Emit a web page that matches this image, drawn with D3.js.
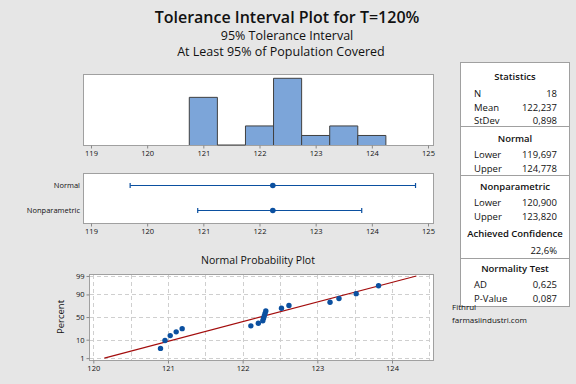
<!DOCTYPE html>
<html>
<head>
<meta charset="utf-8">
<title>Tolerance Interval Plot</title>
<style>
 body{margin:0;background:#e6e6e6;}
 text{font-family:'Open Sans',sans-serif;fill:#111;}
</style>
<script src="https://cdnjs.cloudflare.com/ajax/libs/d3/7.8.5/d3.min.js"></script>
</head>
<body>
<div id="plot"></div>
<script>
// data
var values = [120.90, 120.96, 121.03, 121.11, 121.19, 122.11, 122.21, 122.27, 122.28,
              122.29, 122.30, 122.31, 122.52, 122.62, 123.17, 123.29, 123.52, 123.82];
var binEdges = [120.75, 121.25, 121.75, 122.25, 122.75, 123.25, 123.75, 124.25];
var intervalNames = ["Normal", "Nonparametric"];
var intervalLower = [119.697, 120.900];
var intervalUpper = [124.778, 123.820];
var mean = 122.237, stdev = 0.898;
var axisTicks = [119, 120, 121, 122, 123, 124, 125];
var probXTicks = [120, 121, 122, 123, 124];
var probXGrid = [120, 120.5, 121, 121.5, 122, 122.5, 123, 123.5, 124, 124.5];
var probYTicks = [1, 10, 50, 90, 99];

var statHeaders = ["Statistics", "Normal", "Nonparametric", "Normality Test"];
var statLabels = [["N", "Mean", "StDev"], ["Lower", "Upper"], ["Lower", "Upper"], ["AD", "P-Value"]];
var statValues = [["18", "122,237", "0,898"], ["119,697", "124,778"], ["120,900", "123,820"], ["0,625", "0,087"]];
var achievedLabel = "Achieved Confidence", achievedValue = "22,6%";

var w = 576, h = 384;
var blue = "#0b50a0";

var svg = d3.select("#plot").append("svg").attr("width", w).attr("height", h);
svg.append("rect").attr("width", w).attr("height", h).attr("fill", "#e6e6e6");

// titles
svg.append("text").attr("x", 287).attr("y", 23).attr("text-anchor", "middle")
   .style("font-size", "16px").style("font-weight", 600).text("Tolerance Interval Plot for T=120%");
svg.append("text").attr("x", 287).attr("y", 40).attr("text-anchor", "middle")
   .style("font-size", "12.5px").text("95% Tolerance Interval");
svg.append("text").attr("x", 281).attr("y", 56).attr("text-anchor", "middle")
   .style("font-size", "12.5px").text("At Least 95% of Population Covered");

function frame(x0, y0, x1, y1) {
  svg.append("rect").attr("x", x0).attr("y", y0).attr("width", x1 - x0).attr("height", y1 - y0)
     .attr("fill", "#fff").attr("stroke", "#a0a0a0").attr("stroke-width", 1);
}
function styleAxis(g) {
  g.select(".domain").remove();
  g.selectAll(".tick line").attr("stroke", "#888");
  g.selectAll(".tick text").style("font-size", "7.5px").attr("fill", "#222");
}

// histogram
var x = d3.scaleLinear().domain([119, 125]).range([91, 428]);
frame(83.5, 74.5, 433.5, 145.5);
var bins = d3.bin().domain([binEdges[0], binEdges[binEdges.length - 1]]).thresholds(binEdges)(values);
var yh = d3.scaleLinear().domain([0, 7.45]).range([145, 74]);
svg.append("g").selectAll("path").data(bins).enter().append("path")
   .attr("d", function(d) {
     return "M" + x(d.x0) + "," + yh(0) + "V" + yh(d.length) + "H" + x(d.x1) + "V" + yh(0);
   })
   .attr("fill", "#7ca5d9").attr("stroke", "#404040").attr("stroke-width", 1);
svg.append("g").attr("transform", "translate(0,145.5)")
   .call(d3.axisBottom(x).tickValues(axisTicks).tickFormat(d3.format("d")).tickSize(3).tickPadding(2))
   .call(styleAxis);

// intervals
frame(83.5, 173.5, 433.5, 223.5);
var yi = d3.scalePoint().domain(intervalNames).range([185.5, 210.5]);
var iv = svg.append("g").selectAll("g").data(intervalNames).enter().append("g");
iv.append("line").attr("x1", function(d, i) { return x(intervalLower[i]); })
  .attr("x2", function(d, i) { return x(intervalUpper[i]); })
  .attr("y1", function(d) { return yi(d); }).attr("y2", function(d) { return yi(d); })
  .attr("stroke", blue).attr("stroke-width", 1.2);
[intervalLower, intervalUpper].forEach(function(arr) {
  iv.append("line").attr("x1", function(d, i) { return x(arr[i]); })
    .attr("x2", function(d, i) { return x(arr[i]); })
    .attr("y1", function(d) { return yi(d) - 2.5; }).attr("y2", function(d) { return yi(d) + 2.5; })
    .attr("stroke", blue).attr("stroke-width", 1.2);
});
iv.append("circle").attr("cx", x(mean)).attr("cy", function(d) { return yi(d); }).attr("r", 2.8).attr("fill", blue);
iv.append("text").attr("x", 80).attr("y", function(d) { return yi(d) + 2.5; })
  .attr("text-anchor", "end").style("font-size", "7.5px").text(function(d) { return d; });
svg.append("g").attr("transform", "translate(0,223.5)")
   .call(d3.axisBottom(x).tickValues(axisTicks).tickFormat(d3.format("d")).tickSize(3).tickPadding(2))
   .call(styleAxis);

// normal probability plot
function qnorm(p) {
  var a = [-39.69683028665376, 220.9460984245205, -275.9285104469687, 138.3577518672690, -30.66479806614716, 2.506628277459239];
  var b = [-54.47609879822406, 161.5858368580409, -155.6989798598866, 66.80131188771972, -13.28068155288572];
  var c = [-0.007784894002430293, -0.3223964580411365, -2.400758277161838, -2.549732539343734, 4.374664141464968, 2.938163982698783];
  var dd = [0.007784695709041462, 0.3224671290700398, 2.445134137142996, 3.754408661907416];
  var q, r;
  if (p < 0.02425) {
    q = Math.sqrt(-2 * Math.log(p));
    return (((((c[0]*q+c[1])*q+c[2])*q+c[3])*q+c[4])*q+c[5]) / ((((dd[0]*q+dd[1])*q+dd[2])*q+dd[3])*q+1);
  }
  if (p > 1 - 0.02425) return -qnorm(1 - p);
  q = p - 0.5; r = q * q;
  return (((((a[0]*r+a[1])*r+a[2])*r+a[3])*r+a[4])*r+a[5])*q / (((((b[0]*r+b[1])*r+b[2])*r+b[3])*r+b[4])*r+1);
}
svg.append("text").attr("x", 258).attr("y", 264).attr("text-anchor", "middle")
   .style("font-size", "10.5px").text("Normal Probability Plot");
frame(89.5, 274.5, 433.5, 360.5);
var xp = d3.scaleLinear().domain([120, 124]).range([93.3, 392]);
var yz = d3.scaleLinear().domain([-2.46, 2.41]).range([360.5, 274.5]);
var grid = svg.append("g").attr("stroke", "#cfcfcf").attr("stroke-dasharray", "4,3").attr("stroke-width", 1);
grid.selectAll(".v").data(probXGrid).enter().append("line")
    .attr("x1", function(d) { return Math.round(xp(d)) + 0.5; }).attr("x2", function(d) { return Math.round(xp(d)) + 0.5; })
    .attr("y1", 275).attr("y2", 360);
grid.selectAll(".h").data(probYTicks).enter().append("line")
    .attr("y1", function(d) { return Math.round(yz(qnorm(d / 100))) + 0.5; })
    .attr("y2", function(d) { return Math.round(yz(qnorm(d / 100))) + 0.5; })
    .attr("x1", 90).attr("x2", 433);
svg.append("line").attr("x1", xp(mean + qnorm(0.01) * stdev)).attr("y1", yz(qnorm(0.01)))
   .attr("x2", xp(mean + qnorm(0.99) * stdev)).attr("y2", yz(qnorm(0.99)))
   .attr("stroke", "#a30d0d").attr("stroke-width", 1.2);
var sorted = values.slice().sort(d3.ascending), n = sorted.length;
svg.append("g").selectAll("circle").data(sorted).enter().append("circle")
   .attr("cx", function(d) { return xp(d); })
   .attr("cy", function(d, i) { return yz(qnorm((i + 1 - 0.3) / (n + 0.4))); })
   .attr("r", 2.7).attr("fill", blue);
svg.append("g").attr("transform", "translate(0,360.5)")
   .call(d3.axisBottom(xp).tickValues(probXTicks).tickFormat(d3.format("d")).tickSize(3).tickPadding(2))
   .call(styleAxis);
var yAxisG = svg.append("g").attr("transform", "translate(89.5,0)")
   .call(d3.axisLeft(yz)
     .tickValues(probYTicks.map(function(d) { return qnorm(d / 100); }))
     .tickFormat(function(d, i) { return probYTicks[i]; }).tickSize(3).tickPadding(2));
styleAxis(yAxisG);
svg.append("text").attr("transform", "translate(64,317) rotate(-90)").attr("text-anchor", "middle")
   .style("font-size", "9.5px").text("Percent");

// statistics box
var bx0 = 460.5, bx1 = 569.5;
svg.append("rect").attr("x", bx0).attr("y", 62.5).attr("width", bx1 - bx0).attr("height", 244)
   .attr("fill", "#fff").attr("stroke", "#a0a0a0");
[126.5, 175.5, 258.5].forEach(function(y) {
  svg.append("line").attr("x1", bx0).attr("x2", bx1).attr("y1", y).attr("y2", y).attr("stroke", "#a0a0a0");
});
var headerY = [80, 142, 190, 272];
var rowY = [[97, 110.5, 123.5], [158, 172], [206, 220], [288, 302]];
var cx = (bx0 + bx1) / 2;
statHeaders.forEach(function(hd, s) {
  svg.append("text").attr("x", cx).attr("y", headerY[s]).attr("text-anchor", "middle")
     .style("font-size", "9.5px").style("font-weight", 600).text(hd);
  statLabels[s].forEach(function(lb, r) {
    svg.append("text").attr("x", 474).attr("y", rowY[s][r]).style("font-size", "9.5px").text(lb);
    svg.append("text").attr("x", 557).attr("y", rowY[s][r]).attr("text-anchor", "end")
       .style("font-size", "9.5px").text(statValues[s][r]);
  });
});
svg.append("text").attr("x", cx).attr("y", 237).attr("text-anchor", "middle")
   .style("font-size", "9.5px").style("font-weight", 600).text(achievedLabel);
svg.append("text").attr("x", 557).attr("y", 254).attr("text-anchor", "end")
   .style("font-size", "9.5px").text(achievedValue);

svg.append("text").attr("x", 452).attr("y", 310).style("font-size", "8px").text("Fithrul");
svg.append("text").attr("x", 452).attr("y", 323).style("font-size", "8px").text("farmasiindustri.com");
</script>
</body>
</html>
